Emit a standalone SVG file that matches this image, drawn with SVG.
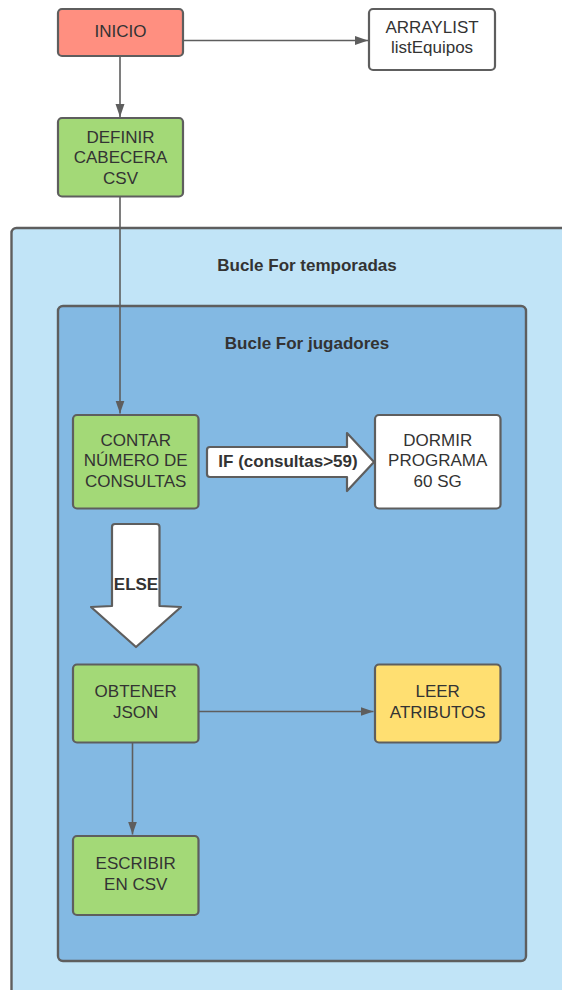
<svg xmlns="http://www.w3.org/2000/svg" width="562" height="990" viewBox="0 0 562 990">
  <style>
    .node { stroke: #5e5e5e; stroke-width: 2.2; }
    .cont { stroke: #5e5e5e; stroke-width: 2.4; }
    .txt { font-family: "Liberation Sans", Arial, sans-serif; font-size: 17px; fill: #333333; text-anchor: middle; }
    .bold { font-weight: bold; }
    .conn { stroke: #5e5e5e; stroke-width: 1.6; fill: none; }
    .big { fill: #ffffff; stroke: #5e5e5e; stroke-width: 2.2; stroke-linejoin: round; }
  </style>
  <defs>
    <marker id="arrow" markerUnits="userSpaceOnUse" markerWidth="14" markerHeight="10" refX="13" refY="4.5" orient="auto">
      <path d="M0,0 L13,4.5 L0,9 z" fill="#5e5e5e"/>
    </marker>
  </defs>

  <rect width="562" height="990" fill="#ffffff"/>

  <!-- containers -->
  <g id="bucle-temporadas">
    <rect class="cont" x="11.5" y="228" width="620" height="820" rx="5" fill="#c1e4f7"/>
    <text class="txt bold" x="307" y="271">Bucle For temporadas</text>
  </g>
  <g id="bucle-jugadores">
    <rect class="cont" x="58" y="306" width="468" height="655" rx="5" fill="#83b9e3"/>
    <text class="txt bold" x="307" y="349">Bucle For jugadores</text>
  </g>

  <!-- connectors -->
  <g id="connectors">
    <line class="conn" x1="183" y1="40.5" x2="368" y2="40.5" marker-end="url(#arrow)"/>
    <line class="conn" x1="120" y1="56" x2="120" y2="117" marker-end="url(#arrow)"/>
    <line class="conn" x1="120" y1="197" x2="120" y2="413.5" marker-end="url(#arrow)"/>
    <line class="conn" x1="198" y1="711.5" x2="373.5" y2="711.5" marker-end="url(#arrow)"/>
    <line class="conn" x1="132.5" y1="743" x2="132.5" y2="834.5" marker-end="url(#arrow)"/>
  </g>

  <!-- block arrows -->
  <g id="if-arrow">
    <path class="big" d="M210,447 L347,447 L347,433 L374,462 L347,491 L347,477 L210,477 Q207,477 207,474 L207,450 Q207,447 210,447 Z"/>
    <text class="txt bold" x="288" y="467">IF (consultas&gt;59)</text>
  </g>
  <g id="else-arrow">
    <path class="big" d="M115,524 L156.5,524 Q159.5,524 159.5,527 L159.5,606 L181,607 L136,647 L91,607 L112,606 L112,527 Q112,524 115,524 Z"/>
    <text class="txt bold" x="136" y="589.5">ELSE</text>
  </g>

  <!-- nodes -->
  <g id="inicio">
    <rect class="node" x="58" y="9" width="125" height="47" rx="4" fill="#ff8f80"/>
    <text class="txt" x="120.5" y="36.5">INICIO</text>
  </g>
  <g id="arraylist">
    <rect class="node" x="369" y="9" width="126" height="61" rx="4" fill="#ffffff"/>
    <text class="txt" x="432" y="32.5">ARRAYLIST</text>
    <text class="txt" x="432" y="53.3">listEquipos</text>
  </g>
  <g id="definir-cabecera">
    <rect class="node" x="58" y="118" width="125" height="78.5" rx="4" fill="#a3d977"/>
    <text class="txt" x="120.5" y="142.7">DEFINIR</text>
    <text class="txt" x="120.5" y="163.4">CABECERA</text>
    <text class="txt" x="120.5" y="184.1">CSV</text>
  </g>
  <g id="contar-consultas">
    <rect class="node" x="73" y="415" width="125.5" height="93.5" rx="4" fill="#a3d977"/>
    <text class="txt" x="135.7" y="445.7">CONTAR</text>
    <text class="txt" x="135.7" y="466.4">NÚMERO DE</text>
    <text class="txt" x="135.7" y="487.1">CONSULTAS</text>
  </g>
  <g id="dormir-programa">
    <rect class="node" x="375" y="415" width="125.5" height="93.5" rx="4" fill="#ffffff"/>
    <text class="txt" x="437.7" y="445.7">DORMIR</text>
    <text class="txt" x="437.7" y="466.4">PROGRAMA</text>
    <text class="txt" x="437.7" y="487.1">60 SG</text>
  </g>
  <g id="obtener-json">
    <rect class="node" x="73" y="664.5" width="125.5" height="78" rx="4" fill="#a3d977"/>
    <text class="txt" x="135.7" y="697.3">OBTENER</text>
    <text class="txt" x="135.7" y="718">JSON</text>
  </g>
  <g id="leer-atributos">
    <rect class="node" x="375" y="664.5" width="125.5" height="78" rx="4" fill="#ffdf71"/>
    <text class="txt" x="437.7" y="697.3">LEER</text>
    <text class="txt" x="437.7" y="718">ATRIBUTOS</text>
  </g>
  <g id="escribir-csv">
    <rect class="node" x="73" y="836" width="125.5" height="79" rx="4" fill="#a3d977"/>
    <text class="txt" x="135.7" y="869.3">ESCRIBIR</text>
    <text class="txt" x="135.7" y="890">EN CSV</text>
  </g>
</svg>
